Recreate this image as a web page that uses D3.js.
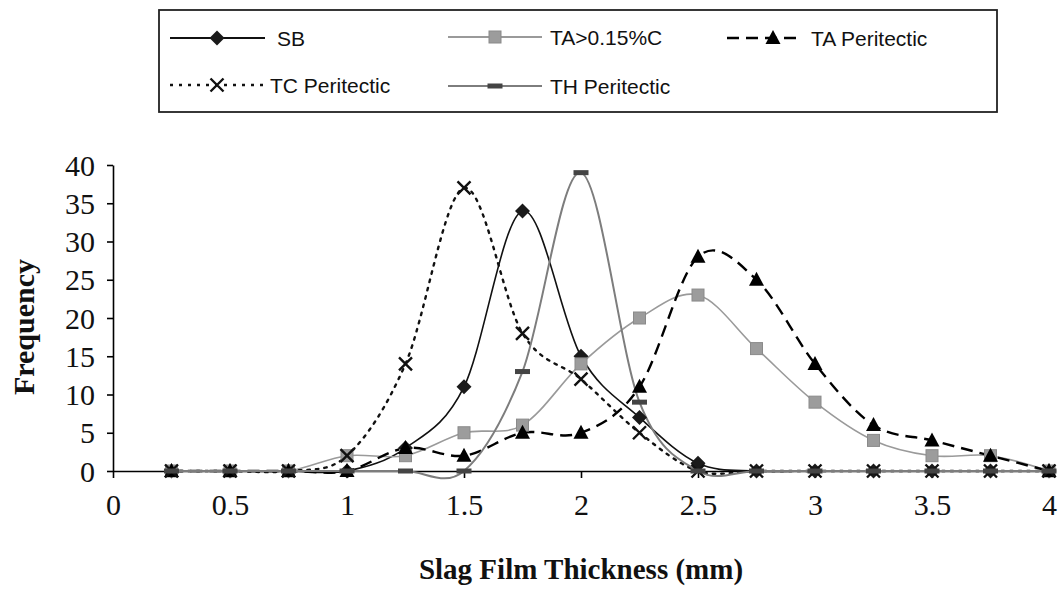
<!DOCTYPE html>
<html>
<head>
<meta charset="utf-8">
<script src="https://cdn.jsdelivr.net/npm/d3@7"></script>
<style>
  html, body { margin: 0; padding: 0; background: #fff; }
  svg { display: block; }
</style>
</head>
<body>
<svg id="chart" width="1061" height="590"></svg>
<script>
// Slag film thickness classes (mm)
const thickness = [0.25, 0.5, 0.75, 1.0, 1.25, 1.5, 1.75, 2.0, 2.25, 2.5, 2.75, 3.0, 3.25, 3.5, 3.75, 4.0];

// Frequency per steel grade
const sb            = [0, 0, 0, 0, 3, 11, 34, 15, 7, 1, 0, 0, 0, 0, 0, 0];
const taLowCarbon   = [0, 0, 0, 2, 2, 5, 6, 14, 20, 23, 16, 9, 4, 2, 2, 0];
const taPeritectic  = [0, 0, 0, 0, 3, 2, 5, 5, 11, 28, 25, 14, 6, 4, 2, 0];
const tcPeritectic  = [0, 0, 0, 2, 14, 37, 18, 12, 5, 0, 0, 0, 0, 0, 0, 0];
const thPeritectic  = [0, 0, 0, 0, 0, 0, 13, 39, 9, 0, 0, 0, 0, 0, 0, 0];

const seriesNames = ["SB", "TA>0.15%C", "TA Peritectic", "TC Peritectic", "TH Peritectic"];

const xTicks = [0, 0.5, 1, 1.5, 2, 2.5, 3, 3.5, 4];
const yTicks = [0, 5, 10, 15, 20, 25, 30, 35, 40];

const svg = d3.select("#chart");

const x = d3.scaleLinear().domain([0, 4]).range([113, 1049]);
const y = d3.scaleLinear().domain([0, 40]).range([471, 165]);

// Line and marker styling per series
const styles = {
  "SB":            { stroke: "#111", width: 1.6, dash: null, marker: "diamond" },
  "TA>0.15%C":     { stroke: "#9a9a9a", width: 1.6, dash: null, marker: "square" },
  "TA Peritectic": { stroke: "#000", width: 2.4, dash: "12,7", marker: "triangle" },
  "TC Peritectic": { stroke: "#111", width: 2.4, dash: "2.5,6", marker: "cross" },
  "TH Peritectic": { stroke: "#7d7d7d", width: 2, dash: null, marker: "bar" }
};

const seriesValues = [sb, taLowCarbon, taPeritectic, tcPeritectic, thPeritectic];
const series = seriesNames.map((name, i) => ({
  name,
  points: thickness.map((t, j) => ({ t, v: seriesValues[i][j] }))
}));

function drawMarker(g, kind, cx, cy) {
  if (kind === "diamond") {
    g.append("path")
      .attr("d", `M${cx},${cy - 7.5}L${cx + 7.5},${cy}L${cx},${cy + 7.5}L${cx - 7.5},${cy}Z`)
      .attr("fill", "#1a1a1a");
  } else if (kind === "square") {
    g.append("rect")
      .attr("x", cx - 6).attr("y", cy - 6).attr("width", 12).attr("height", 12)
      .attr("fill", "#9c9c9c").attr("stroke", "#8a8a8a").attr("stroke-width", 1);
  } else if (kind === "triangle") {
    g.append("path")
      .attr("d", `M${cx},${cy - 8}L${cx + 7.5},${cy + 6}L${cx - 7.5},${cy + 6}Z`)
      .attr("fill", "#000");
  } else if (kind === "cross") {
    g.append("path")
      .attr("d", `M${cx - 6.5},${cy - 6.5}L${cx + 6.5},${cy + 6.5}M${cx + 6.5},${cy - 6.5}L${cx - 6.5},${cy + 6.5}`)
      .attr("stroke", "#111").attr("stroke-width", 2.4).attr("fill", "none");
  } else if (kind === "bar") {
    g.append("rect")
      .attr("x", cx - 7.5).attr("y", cy - 2.5).attr("width", 15).attr("height", 5)
      .attr("fill", "#444");
  }
}

// Axes
const serif = "'Liberation Serif', 'Times New Roman', serif";
const sans = "'Liberation Sans', Arial, sans-serif";

const yAxis = svg.append("g")
  .attr("transform", `translate(${x(0)},0)`)
  .call(d3.axisLeft(y).tickValues(yTicks).tickSize(6).tickSizeOuter(0).tickPadding(12).tickFormat(d3.format("d")));
yAxis.select(".domain").attr("stroke", "#000").attr("stroke-width", 1.6);
yAxis.selectAll(".tick line").attr("stroke", "#000").attr("stroke-width", 1.6);
yAxis.selectAll(".tick text")
  .attr("font-family", serif).attr("font-size", 30).attr("fill", "#111")
  .attr("dy", "0.34em");

const xAxis = svg.append("g")
  .attr("transform", `translate(0,${y(0)})`)
  .call(d3.axisBottom(x).tickValues(xTicks).tickSize(7).tickSizeOuter(0).tickPadding(16)
    .tickFormat(d => d3.format("")(d)));
xAxis.select(".domain").attr("stroke", "#000").attr("stroke-width", 1.6);
xAxis.selectAll(".tick line").attr("stroke", "#000").attr("stroke-width", 1.6);
xAxis.selectAll(".tick text")
  .attr("font-family", serif).attr("font-size", 30).attr("fill", "#111");

// Axis titles
svg.append("text")
  .attr("x", x(2)).attr("y", 579)
  .attr("text-anchor", "middle")
  .attr("font-family", serif).attr("font-weight", "bold").attr("font-size", 29)
  .attr("fill", "#111")
  .text("Slag Film Thickness (mm)");

svg.append("text")
  .attr("transform", "translate(34,327) rotate(-90)")
  .attr("text-anchor", "middle")
  .attr("font-family", serif).attr("font-weight", "bold").attr("font-size", 30)
  .attr("fill", "#111")
  .text("Frequency");

// Smoothed series lines
const line = d3.line()
  .x(d => x(d.t))
  .y(d => y(d.v))
  .curve(d3.curveCatmullRom.alpha(0));

const plot = svg.append("g");
series.forEach(s => {
  const st = styles[s.name];
  plot.append("path")
    .datum(s.points)
    .attr("d", line)
    .attr("fill", "none")
    .attr("stroke", st.stroke)
    .attr("stroke-width", st.width)
    .attr("stroke-dasharray", st.dash)
    .attr("stroke-linecap", st.marker === "cross" ? "round" : "butt");
});
series.forEach(s => {
  const st = styles[s.name];
  const g = plot.append("g");
  s.points.forEach(p => drawMarker(g, st.marker, x(p.t), y(p.v)));
});

// Legend
const legend = svg.append("g");
legend.append("rect")
  .attr("x", 159).attr("y", 10).attr("width", 838).attr("height", 102)
  .attr("fill", "#fff").attr("stroke", "#222").attr("stroke-width", 1.8);

const legendItems = [
  { name: "SB",            x0: 170, x1: 265, mx: 217, tx: 277, y: 38 },
  { name: "TA>0.15%C",     x0: 448, x1: 542, mx: 495, tx: 550, y: 37 },
  { name: "TA Peritectic", x0: 727, x1: 797, mx: 773, tx: 811, y: 38 },
  { name: "TC Peritectic", x0: 170, x1: 265, mx: 217, tx: 270, y: 85 },
  { name: "TH Peritectic", x0: 448, x1: 542, mx: 495, tx: 550, y: 86 }
];

legendItems.forEach(item => {
  const st = styles[item.name];
  const g = legend.append("g");
  g.append("line")
    .attr("x1", item.x0).attr("x2", item.x1)
    .attr("y1", item.y).attr("y2", item.y)
    .attr("stroke", st.stroke)
    .attr("stroke-width", st.marker === "cross" || st.marker === "triangle" ? 2.4 : 1.8)
    .attr("stroke-dasharray", st.marker === "cross" ? "3,6" : st.dash);
  drawMarker(g, st.marker, item.mx, item.y);
  g.append("text")
    .attr("x", item.tx).attr("y", item.y)
    .attr("dy", "0.36em")
    .attr("font-family", sans).attr("font-size", 21).attr("fill", "#111")
    .text(item.name);
});
</script>
</body>
</html>
